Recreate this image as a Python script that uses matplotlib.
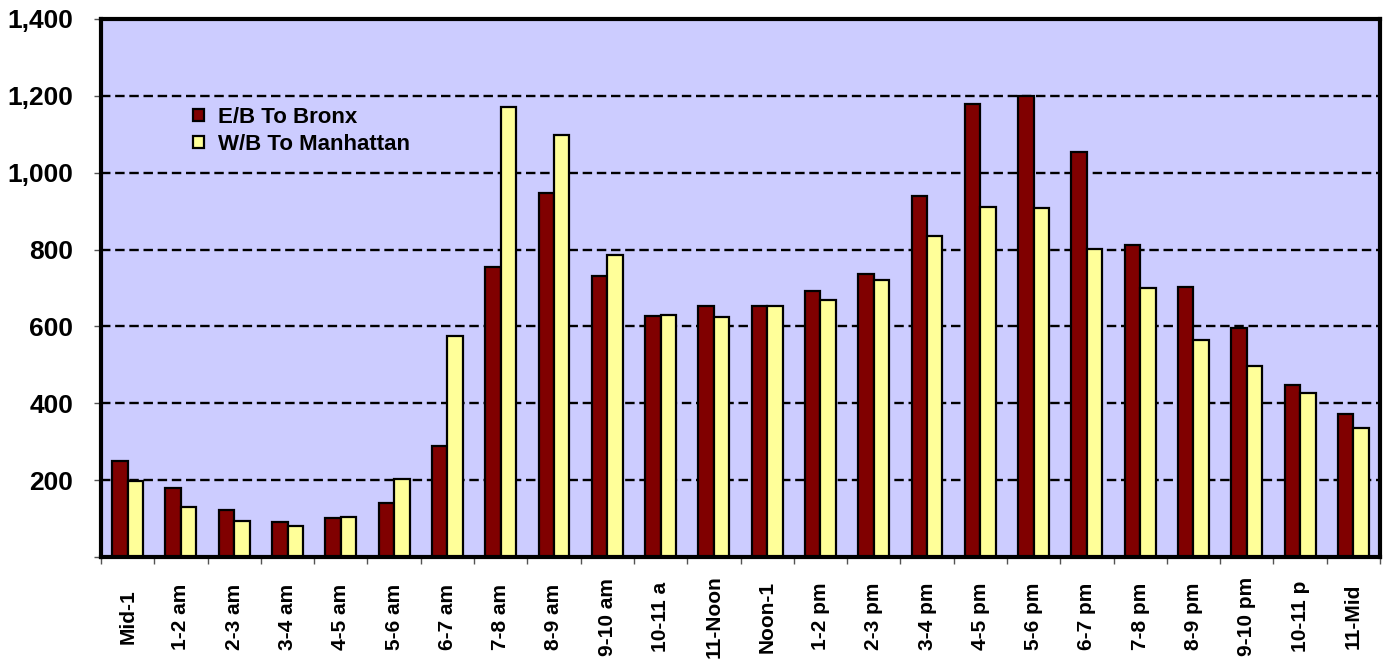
import matplotlib
matplotlib.use("Agg")
import matplotlib.pyplot as plt
import numpy as np
from matplotlib.ticker import FuncFormatter, FixedLocator

plt.rcParams['font.family'] = ['Liberation Sans', 'DejaVu Sans']
plt.rcParams['font.weight'] = 'bold'

categories = ["Mid-1", "1-2 am", "2-3 am", "3-4 am", "4-5 am", "5-6 am", "6-7 am",
              "7-8 am", "8-9 am", "9-10 am", "10-11 a", "11-Noon", "Noon-1", "1-2 pm",
              "2-3 pm", "3-4 pm", "4-5 pm", "5-6 pm", "6-7 pm", "7-8 pm", "8-9 pm",
              "9-10 pm", "10-11 p", "11-Mid"]
eb_bronx = [250, 180, 123, 90, 102, 141, 289, 755, 947, 731, 628, 654, 652, 692,
            737, 940, 1178, 1200, 1053, 811, 703, 595, 448, 371]
wb_manhattan = [198, 131, 93, 80, 104, 203, 575, 1170, 1098, 786, 630, 624, 654, 669,
                721, 836, 912, 907, 802, 699, 565, 497, 428, 336]
series_names = ["E/B To Bronx", "W/B To Manhattan"]
y_ticks = [0, 200, 400, 600, 800, 1000, 1200, 1400]

fig = plt.figure(figsize=(13.89, 6.59), dpi=100)
ax = fig.add_axes([101/1389, 1 - 557/659, (1380-101)/1389, (557-19)/659])
ax.set_facecolor('#CCCCFF')

x = np.arange(len(categories))
w = 0.29
ax.bar(x - w/2, eb_bronx, w, color='#800000', edgecolor='black', linewidth=1.6,
       label=series_names[0], zorder=3)
ax.bar(x + w/2, wb_manhattan, w, color='#FFFF99', edgecolor='black', linewidth=1.6,
       label=series_names[1], zorder=3)

ax.set_xlim(-0.5, len(categories) - 0.5)
ax.set_ylim(0, 1400)
ax.set_yticks(y_ticks)
ax.yaxis.set_major_formatter(FuncFormatter(lambda v, p: "" if v == 0 else f"{int(v):,}"))
ax.tick_params(axis='y', length=5, width=1, color='#555555', pad=15, labelsize=19)

ax.set_xticks(x)
ax.set_xticklabels(categories, rotation=90, fontsize=15, fontweight='bold')
for lbl in ax.get_xticklabels():
    lbl.set_va('center')
ax.tick_params(axis='x', which='major', length=0, pad=43)
ax.xaxis.set_minor_locator(FixedLocator(np.arange(-0.5, len(categories), 1.0)))
ax.tick_params(axis='x', which='minor', length=5, width=1, color='#555555')

for v in y_ticks[1:-1]:
    ax.axhline(v, color='black', linestyle=(0, (4, 2)), linewidth=1.7, zorder=1)

for s in ax.spines.values():
    s.set_linewidth(3)
    s.set_color('black')
    s.set_zorder(5)

leg = ax.legend(loc='upper left', bbox_to_anchor=(0.0652, 0.853), frameon=False,
                fontsize=16, handlelength=0.5, handleheight=0.45, handletextpad=0.6,
                labelspacing=0.27, borderaxespad=0)
for t in leg.get_texts():
    t.set_fontweight('bold')

fig.savefig('out.png', dpi=100)
